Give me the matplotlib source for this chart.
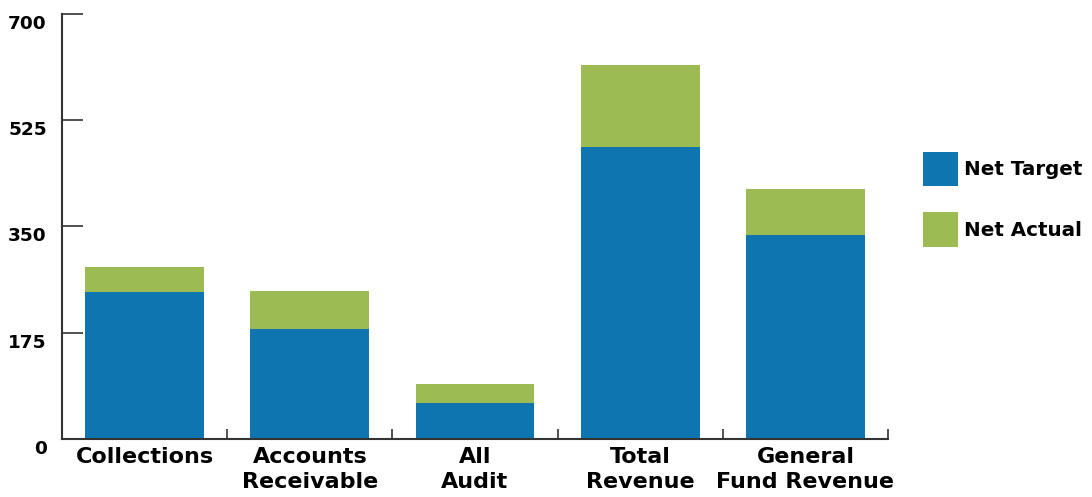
import matplotlib
matplotlib.use("Agg")
import matplotlib.pyplot as plt
import matplotlib.transforms as mtrans

categories = ["Collections", "Accounts\nReceivable", "All\nAudit", "Total\nRevenue", "General\nFund Revenue"]
net_target = [241, 180, 59, 480, 336]
net_actual = [42, 63, 31, 136, 76]
yticks = [0, 175, 350, 525, 700]

blue = "#0F75B1"
green = "#9CBB53"
axis_col = "#333333"
FONT = ["DejaVu Sans"]
W = "bold"

fig = plt.figure(figsize=(10.92, 4.97), dpi=100)
ax = fig.add_axes([62/1092, (497-438.7)/497, (888-62)/1092, (438.7-14)/497])

x = list(range(len(categories)))
ax.bar(x, net_target, width=0.72, color=blue, label="Net Target")
ax.bar(x, net_actual, width=0.72, bottom=net_target, color=green, label="Net Actual")

ax.set_xlim(-0.5, len(categories) - 0.5)
ax.set_ylim(0, 700)

for s in ["top", "right"]:
    ax.spines[s].set_visible(False)
for s in ["left", "bottom"]:
    ax.spines[s].set_color(axis_col)
    ax.spines[s].set_linewidth(1.5)

ax.set_yticks(yticks)
ax.set_yticklabels([str(v) for v in yticks], fontsize=13.3, fontweight=W, family=FONT)
ax.tick_params(axis="y", direction="in", length=15, width=1.2, color=axis_col, pad=11)
off = mtrans.ScaledTranslation(0, -8/100, fig.dpi_scale_trans)
for lab in ax.get_yticklabels():
    lab.set_transform(lab.get_transform() + off)

ax.set_xticks(x)
ax.set_xticklabels(categories, fontsize=16, fontweight=W, family=FONT, linespacing=1.3)
ax.tick_params(axis="x", which="major", length=0, pad=6)
ax.set_xticks([i + 0.5 for i in x], minor=True)
ax.tick_params(axis="x", which="minor", direction="in", length=7, width=1.2, color=axis_col)

handles, labels = ax.get_legend_handles_labels()
leg = fig.legend(handles, labels, loc="upper left", bbox_to_anchor=(905/1092, 1 - 134/497),
                 frameon=False, handlelength=1.77, handleheight=2.3, labelspacing=1.3,
                 handletextpad=0.3, prop={"family": FONT, "weight": W, "size": 14.3})

fig.savefig("out.png", dpi=100)
